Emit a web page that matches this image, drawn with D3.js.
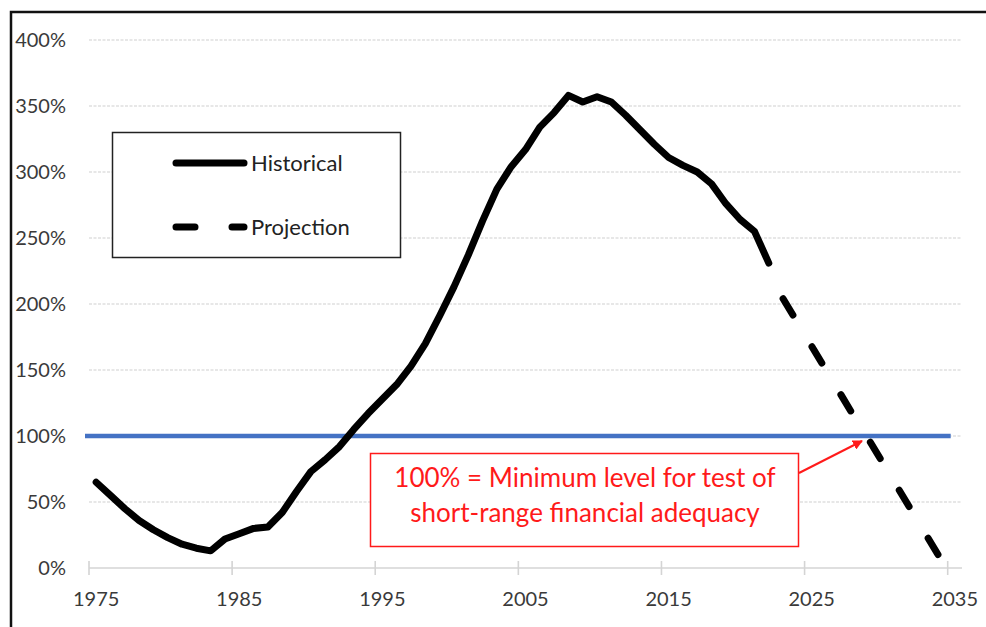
<!DOCTYPE html>
<html>
<style>
    body {
      margin: 0;
      overflow: hidden;
      background: white;
    }
    text {
      font-family: Lato, "Open Sans", sans-serif;
    }
</style>
<script src="https://cdn.jsdelivr.net/npm/d3@7"></script>
<body>
<svg></svg>
<script>
// trust fund ratio, percent of annual cost
var histYears = d3.range(1975, 2023),
    histValues = [65, 55, 45, 36, 29, 23, 18, 15, 13, 22,
                  26, 30, 31, 42, 58, 73, 82, 92, 105, 117,
                  128, 139, 153, 170, 191, 213, 237, 263, 287, 304,
                  317, 334, 345, 358, 353, 357, 353, 343, 332, 321,
                  311, 305, 300, 291, 276, 264, 255, 231];

var projYears = d3.range(2023, 2035),
    projValues = [204, 186, 168, 150, 132, 114, 97, 79, 61, 43, 25, 7];

var thresholdYears = [1975, 2035],
    thresholdValue = 100;

var categories = d3.range(1975, 2036),
    xTickYears = [1975, 1985, 1995, 2005, 2015, 2025, 2035],
    yTicks = [0, 50, 100, 150, 200, 250, 300, 350, 400];

var legendNames = ["Historical", "Projection"],
    noteLines = ["100% = Minimum level for test of", "short-range financial adequacy"];

var width = 986,
    height = 627;

var svg = d3.select("svg")
    .attr("width", width)
    .attr("height", height);

var x = d3.scaleBand().domain(categories).range([89, 962]),
    y = d3.scaleLinear().domain([0, 400]).range([568, 40]);

function cx(yr) { return x(yr) + x.bandwidth() / 2 }

// outer frame (cut off at right and bottom)
svg.append("path")
    .attr("d", "M11,640 V12 H1000")
    .style("fill", "none")
    .style("stroke", "#111")
    .style("stroke-width", 2.5);

// gridlines
svg.append("g").selectAll("line")
    .data(yTicks.filter(function(d) { return d > 0 }))
  .enter().append("line")
    .attr("x1", x.range()[0])
    .attr("x2", x.range()[1])
    .attr("y1", function(d) { return y(d) })
    .attr("y2", function(d) { return y(d) })
    .style("stroke", "#cfcfcf")
    .style("stroke-width", 1.2)
    .style("stroke-dasharray", "3,1.5");

// y labels
svg.append("g").selectAll("text")
    .data(yTicks)
  .enter().append("text")
    .attr("x", 66)
    .attr("y", function(d) { return y(d) })
    .attr("dy", "0.35em")
    .attr("text-anchor", "end")
    .style("font-size", "20px")
    .style("fill", "#3a3a3a")
    .text(function(d) { return d + "%" });

// x axis line, ticks, labels
svg.append("line")
    .attr("x1", x.range()[0])
    .attr("x2", x.range()[1])
    .attr("y1", y(0))
    .attr("y2", y(0))
    .style("stroke", "#d4d4d4")
    .style("stroke-width", 1.6);

svg.append("g").selectAll("line")
    .data(xTickYears)
  .enter().append("line")
    .attr("x1", function(d) { return x(d) })
    .attr("x2", function(d) { return x(d) })
    .attr("y1", y(0) - 7)
    .attr("y2", y(0) + 7)
    .style("stroke", "#d4d4d4")
    .style("stroke-width", 1.6);

svg.append("g").selectAll("text")
    .data(xTickYears)
  .enter().append("text")
    .attr("x", function(d) { return cx(d) })
    .attr("y", 599)
    .attr("dy", "0.35em")
    .attr("text-anchor", "middle")
    .style("font-size", "20px")
    .style("fill", "#3a3a3a")
    .text(function(d) { return d });

// 100% threshold
svg.append("line")
    .attr("x1", x(thresholdYears[0]) - 4)
    .attr("x2", x(thresholdYears[1]) + 3)
    .attr("y1", y(thresholdValue))
    .attr("y2", y(thresholdValue))
    .style("stroke", "#4472c4")
    .style("stroke-width", 4.5);

var line = d3.line()
    .x(function(d) { return cx(d[0]) })
    .y(function(d) { return y(d[1]) });

svg.append("path")
    .datum(d3.zip(histYears, histValues))
    .attr("d", line)
    .style("fill", "none")
    .style("stroke", "black")
    .style("stroke-width", 7)
    .style("stroke-linejoin", "round")
    .style("stroke-linecap", "round");

svg.append("path")
    .datum(d3.zip(projYears, projValues))
    .attr("d", line)
    .style("fill", "none")
    .style("stroke", "black")
    .style("stroke-width", 7)
    .style("stroke-dasharray", "19,37")
    .style("stroke-linecap", "round");

// legend
var legend = svg.append("g");

legend.append("rect")
    .attr("x", 112.5)
    .attr("y", 132.5)
    .attr("width", 288)
    .attr("height", 125)
    .style("fill", "white")
    .style("stroke", "#222")
    .style("stroke-width", 1.5);

var items = legend.selectAll("g.item")
    .data(legendNames)
  .enter().append("g")
    .attr("class", "item")
    .attr("transform", function(d, i) { return "translate(0," + (163 + i * 64) + ")" });

items.append("line")
    .attr("x1", 176)
    .attr("x2", 244)
    .style("stroke", "black")
    .style("stroke-width", 7)
    .style("stroke-linecap", "round")
    .style("stroke-dasharray", function(d, i) { return i ? "19,37" : null });

items.append("text")
    .attr("x", 251)
    .attr("dy", "0.35em")
    .style("font-size", "22px")
    .style("fill", "#222")
    .text(function(d) { return d });

// annotation
var note = svg.append("g");

note.append("rect")
    .attr("x", 370.5)
    .attr("y", 453.5)
    .attr("width", 428)
    .attr("height", 93)
    .style("fill", "white")
    .style("stroke", "#ff1a1a")
    .style("stroke-width", 1.5);

note.selectAll("text")
    .data(noteLines)
  .enter().append("text")
    .attr("x", 585)
    .attr("y", function(d, i) { return 478 + i * 35 })
    .attr("dy", "0.35em")
    .attr("text-anchor", "middle")
    .style("font-size", "26px")
    .style("fill", "#ff1a1a")
    .text(function(d) { return d });

svg.append("defs").append("marker")
    .attr("id", "arrow")
    .attr("viewBox", "0 0 10 10")
    .attr("refX", 9)
    .attr("refY", 5)
    .attr("markerWidth", 5)
    .attr("markerHeight", 5)
    .attr("orient", "auto")
  .append("path")
    .attr("d", "M0,0 L10,5 L0,10 Z")
    .style("fill", "#ff1a1a");

note.append("line")
    .attr("x1", 799)
    .attr("y1", 473)
    .attr("x2", 862)
    .attr("y2", 441)
    .attr("marker-end", "url(#arrow)")
    .style("stroke", "#ff1a1a")
    .style("stroke-width", 2);
</script>
</body>
</html>
